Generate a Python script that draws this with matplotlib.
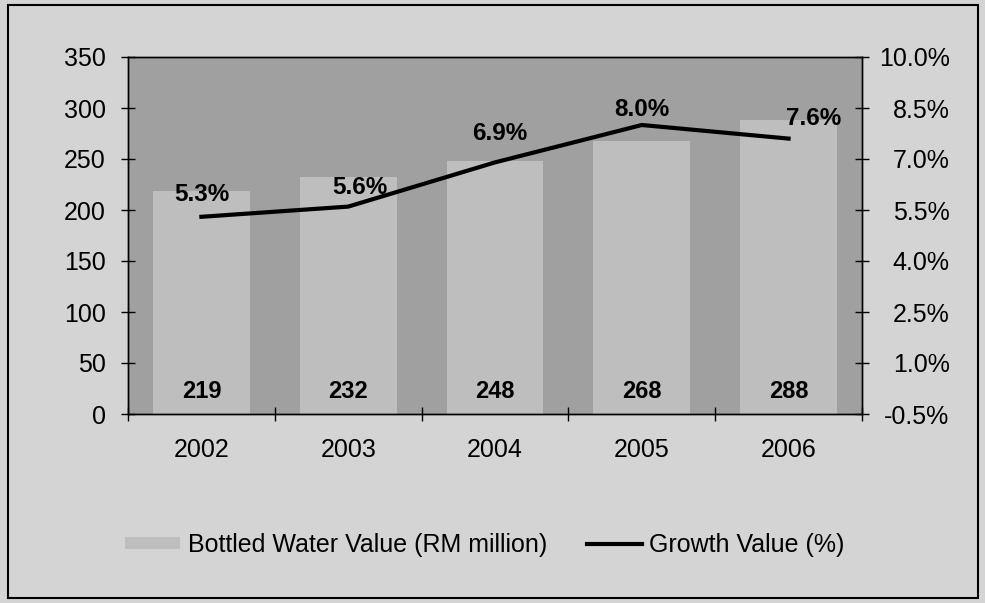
import matplotlib.pyplot as plt
from matplotlib.patches import Rectangle

# datos de la grafica
years = ["2002", "2003", "2004", "2005", "2006"]
bottled_value = [219, 232, 248, 268, 288]   # RM million
growth_pct = [5.3, 5.6, 6.9, 8.0, 7.6]       # %
left_ticks = [0, 50, 100, 150, 200, 250, 300, 350]
right_ticks = [-0.5, 1.0, 2.5, 4.0, 5.5, 7.0, 8.5, 10.0]

plt.rcParams['font.family'] = ['Liberation Sans', 'DejaVu Sans']

fig = plt.figure(figsize=(9.85, 6.03), dpi=100, facecolor='#d4d4d4')
ax = fig.add_axes([128 / 985, 1 - 414 / 603, (862 - 128) / 985, (414 - 57) / 603])
ax.set_facecolor('#a0a0a0')

x = list(range(len(years)))
ax.bar(x, bottled_value, width=0.66, color='#bebebe', edgecolor='none',
       label='Bottled Water Value (RM million)', zorder=2)
ax.set_ylim(0, 350)
ax.set_xlim(-0.5, len(years) - 0.5)
ax.set_yticks(left_ticks)
ax.set_xticks(x)
ax.set_xticklabels(years)
ax.set_xticks([i - 0.5 for i in range(len(years) + 1)], minor=True)
ax.tick_params(axis='x', which='major', length=0, pad=17, labelsize=18)
ax.tick_params(axis='x', which='minor', direction='inout', length=10, width=1)
ax.tick_params(axis='y', direction='inout', length=10, width=1, pad=11, labelsize=18)

# etiquetas de las barras
for xi, v in zip(x, bottled_value):
    ax.annotate(str(v), (xi, 0), xytext=(0, 22), textcoords='offset pixels',
                ha='center', va='center', fontsize=17, fontweight='bold', zorder=5)

# eje derecho con el crecimiento
ax2 = ax.twinx()
ax2.plot(x, growth_pct, color='black', lw=3, label='Growth Value (%)', zorder=4)
ax2.set_ylim(-0.5, 10.0)
ax2.set_yticks(right_ticks)
ax2.set_yticklabels([f"{t:.1f}%" for t in right_ticks])
ax2.tick_params(axis='y', direction='inout', length=10, width=1, pad=58, labelsize=18)
for lab in ax2.get_yticklabels():
    lab.set_horizontalalignment('right')

offsets = [(0, 22), (12, 19), (5, 29), (0, 15), (25, 20)]
for xi, g, off in zip(x, growth_pct, offsets):
    ax2.annotate(f"{g:.1f}%", (xi, g), xytext=off, textcoords='offset pixels',
                 ha='center', va='center', fontsize=17.5, fontweight='bold')

for a in (ax, ax2):
    for s in a.spines.values():
        s.set_color('black')
        s.set_linewidth(1)

# leyenda
h1, l1 = ax.get_legend_handles_labels()
h2, l2 = ax2.get_legend_handles_labels()
fig.legend(h1 + h2, l1 + l2, loc='center', bbox_to_anchor=(485 / 985, 1 - 545 / 603),
           ncol=2, frameon=False, fontsize=18, handlelength=2.2, handleheight=0.4,
           handletextpad=0.3, columnspacing=1.6)

# marco exterior
fig.patches.append(Rectangle((8 / 985, 5 / 603), 970 / 985, 593 / 603, transform=fig.transFigure,
                             fill=False, edgecolor='black', lw=1.5))

fig.savefig('out.png', dpi=100, facecolor=fig.get_facecolor())
